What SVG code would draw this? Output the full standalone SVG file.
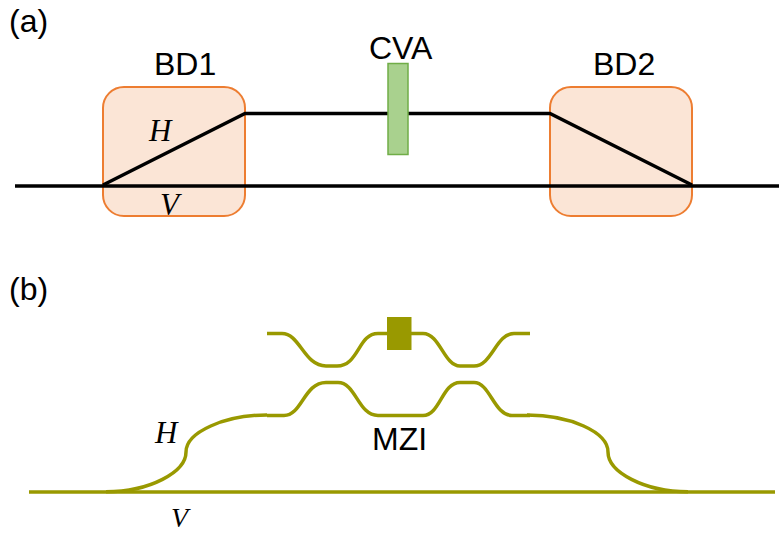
<svg xmlns="http://www.w3.org/2000/svg" width="779" height="533" viewBox="0 0 779 533">
<style>
text{font-family:"Liberation Sans",Arial,sans-serif;font-size:32px;fill:#000}
text.m{font-family:"Liberation Serif","Times New Roman",serif;font-style:italic;font-size:31px}
text.s{font-size:28px}
.bd{fill:#FBE5D6;stroke:#ED7D31;stroke-width:2}
.k{fill:none;stroke:#000;stroke-width:3.500}
.o{fill:none;stroke:#999900;stroke-width:3.500}
</style>
<rect width="779" height="533" fill="#fff"/>
<g id="label-a"><text x="9" y="32">(a)</text></g>
<g id="label-b"><text x="9" y="300">(b)</text></g>
<g id="BD1"><rect class="bd" x="103" y="87" width="142" height="129" rx="21"/></g>
<g id="BD2"><rect class="bd" x="550" y="87" width="142" height="129" rx="21"/></g>
<g id="connectors-a">
<path class="k" d="M15 186H779"/>
<path class="k" d="M103 185L245 113.500H388"/>
<path class="k" d="M408 113.500H550L692 185"/>
</g>
<g id="CVA"><rect x="388" y="63.500" width="20" height="91" fill="#A9D18E" stroke="#70AD47" stroke-width="1.500"/></g>
<g id="text-a">
<text x="154" y="75">BD1</text>
<text x="369" y="59">CVA</text>
<text x="593" y="75">BD2</text>
<text class="m" x="149" y="141">H</text>
<text class="m" x="160" y="215">V</text>
</g>
<g id="connectors-b">
<path class="o" d="M29 492H775"/>
<path class="o" d="M106 491.700C150 491.700 186 472 186 452C186 432 225 415 267 415"/>
<path class="o" d="M688 491.700C644 491.700 608 472 608 452C608 432 570 415 527 415"/>
<path class="o" d="M267 333.500H282C300 333.500 304 366 326 366H337C359 366 358 333.500 378 333.500H423C440 333.500 444 366 460 366H474C492 366 496 333.500 514 333.500H530"/>
<path class="o" d="M267 415.500H284C302 415.500 304 382.500 326 382.500H338C356 382.500 358 415.500 378 415.500H423C440 415.500 442 382.500 460 382.500H474C490 382.500 494 415.500 512 415.500H530"/>
</g>
<g id="phase"><rect x="387" y="317" width="24.500" height="33" fill="#999900"/></g>
<g id="text-b">
<text x="372" y="450">MZI</text>
<text class="m" x="155" y="443">H</text>
<text class="m s" x="171" y="526.500">V</text>
</g>
</svg>
